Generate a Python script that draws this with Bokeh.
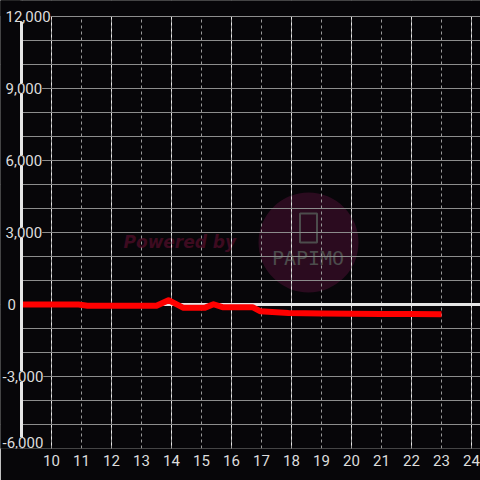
from bokeh.plotting import figure
from bokeh.models import Range1d, FixedTicker, LinearAxis, Grid, ColumnDataSource, Label
from bokeh.core.properties import value
from bokeh.embed import file_html
from bokeh.resources import INLINE

# ---- data ----
hours = [9.0, 10.0, 10.9, 11.2, 13.5, 13.9, 14.4, 15.1, 15.4, 15.7, 16.7, 16.95, 17.9, 19.0, 20.0, 21.0, 22.0, 23.0]
balance = [0, 0, 0, -50, -50, 180, -140, -140, 10, -110, -110, -280, -350, -370, -385, -395, -400, -405]

x_ticks = [10, 11, 12, 13, 14, 15, 16, 17, 18, 19, 20, 21, 22, 23, 24]
y_label_values = [12000, 9000, 6000, 3000, 0, -3000, -6000]
y_label_texts = ["12,000", "9,000", "6,000", "3,000", "0", "-3,000", "-6,000"]
y_grid_values = [-6000, -5000, -4000, -3000, -2000, -1000, 0, 1000, 2000, 3000,
                 4000, 5000, 6000, 7000, 8000, 9000, 10000, 11000, 12000]

axis_x = 9.0
y_min, y_max = -6000, 12000
x_start, x_end = 8.3, 24.3
y_top = y_max + 16 * 3000 / 72      # room above the top tick for its label
watermark_text = "Powered by"
logo_text = "PAPIMO"

BG = "#070609"
FONT = "Roboto"

p = figure(frame_width=480, frame_height=448,
           x_range=Range1d(x_start, x_end), y_range=Range1d(y_min, y_top),
           output_backend="svg", toolbar_location=None,
           x_axis_location=None, y_axis_location=None,
           background_fill_color=BG, border_fill_color=BG,
           outline_line_color=None,
           min_border_left=0, min_border_right=0, min_border_top=0, min_border_bottom=32)

# watermark (lowest level)
p.circle(x=[18.567], y=[2583], radius=50, radius_units="screen",
         fill_color="#2b0b1f", line_color=None, level="image")
p.text(x=[12.4], y=[2604], text=[watermark_text], text_font=value("DejaVu Sans"),
       text_font_size="17px", text_font_style="bold italic", text_color="#3d0b20",
       text_align="left", text_baseline="middle", level="image")
p.text(x=[18.55], y=[1937], text=[logo_text], text_font=value("DejaVu Sans Mono"),
       text_font_size="20px", text_color="#4c4c4c", text_align="center",
       text_baseline="middle", level="image")
p.rect(x=[18.567], y=[3187], width=17, height=29, width_units="screen", height_units="screen",
       fill_color=None, line_color="#4c4c4c", line_width=2, level="image")

# grids
xgrid = Grid(dimension=0, ticker=FixedTicker(ticks=x_ticks), grid_line_color="#9a9a9a",
             grid_line_dash="3 3", grid_line_width=1)
ygrid = Grid(dimension=1, ticker=FixedTicker(ticks=y_grid_values), grid_line_color="#8c8c8c",
             grid_line_width=1)
p.add_layout(xgrid)
p.add_layout(ygrid)

# mask left of the axis
p.quad(left=[x_start - 1], right=[axis_x], bottom=[y_min - 1000], top=[y_top + 1000],
       fill_color=BG, line_color=None)

# zero line
p.ray(x=[axis_x], y=[0], length=0, angle=0, line_color="#e6e6e6", line_width=3)

# data line
src = ColumnDataSource(dict(x=hours, y=balance))
p.line("x", "y", source=src, line_color="#ff0000", line_width=6, line_join="round")

# y axis line
p.vspan(x=[axis_x], line_color="#e6e6e6", line_width=3)

# mask above the top grid line
p.quad(left=[x_start - 1], right=[x_end + 1], bottom=[y_max + 25], top=[y_top + 1000],
       fill_color=BG, line_color=None)

# y labels
x_offsets = [5, 5, 5, 5, 7, 2, 2]
y_offsets = [0, 0, 0, 0, 0, 0, 6]
for v, t, xo, yo in zip(y_label_values, y_label_texts, x_offsets, y_offsets):
    p.add_layout(Label(x=x_start, y=v, text=t, x_offset=xo, y_offset=yo,
                       text_font=FONT, text_font_size="15px", text_color="#dddddd",
                       text_align="left", text_baseline="middle",
                       background_fill_color=BG, background_fill_alpha=1.0))

# x axis
xaxis = LinearAxis(ticker=FixedTicker(ticks=x_ticks), axis_line_color=None,
                   major_tick_line_color=None, minor_tick_line_color=None,
                   major_tick_out=0, major_tick_in=0,
                   major_label_text_color="#dddddd", major_label_text_font=FONT,
                   major_label_text_font_size="15px", major_label_standoff=6)
p.add_layout(xaxis, "below")

open("out.html", "w").write(file_html(p, INLINE))
